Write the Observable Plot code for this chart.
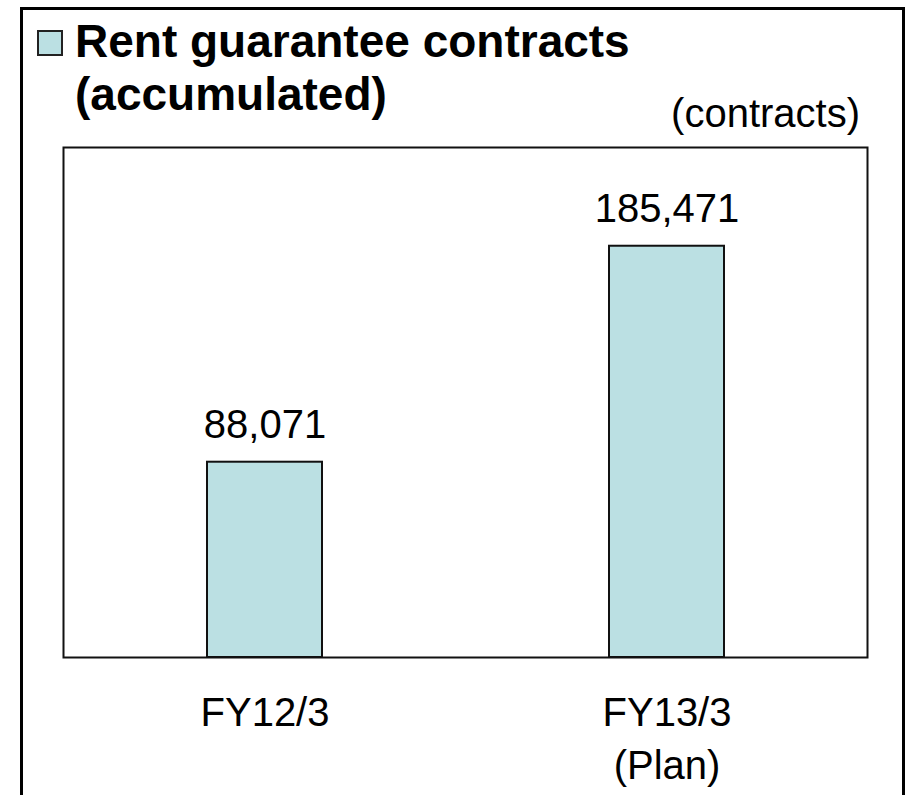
<!DOCTYPE html>
<html>
<head>
<meta charset="utf-8">
<script src="https://cdn.jsdelivr.net/npm/d3@7"></script>
<script src="https://cdn.jsdelivr.net/npm/@observablehq/plot@0.6"></script>
<style>
  html, body { margin: 0; padding: 0; background: #fff; overflow: hidden; }
  #wrap { position: relative; width: 908px; height: 795px; overflow: hidden; font-family: "Liberation Sans", Arial, sans-serif; color: #000; background: #fff; }
  #outer { position: absolute; left: 20px; top: 7px; width: 885px; height: 900px; border: 3px solid #000; box-sizing: border-box; z-index: 5; pointer-events: none; background: transparent; }
  #header { position: relative; height: 140px; }
  #icon { position: absolute; left: 37px; top: 30px; width: 26px; height: 26px; background: #bbe0e3; border: 2px solid #222; box-sizing: border-box; }
  #title { position: absolute; left: 75px; top: 15px; font-size: 46px; font-weight: bold; line-height: 53px; white-space: nowrap; }
  #unit { position: absolute; right: 48px; top: 93px; font-size: 40px; line-height: 40px; white-space: nowrap; }
  #chart { position: relative; }
</style>
</head>
<body>
<div id="wrap">
  <div id="outer"></div>
  <div id="header">
    <div id="icon"></div>
    <div id="title">Rent guarantee contracts<br>(accumulated)</div>
    <div id="unit">(contracts)</div>
  </div>
  <div id="chart"></div>
</div>
<script>
const categories = ["FY12/3", "FY13/3"];
const tickLabels = ["FY12/3", "FY13/3\n(Plan)"];
const contracts = [88071, 185471];

const data = categories.map((c, i) => ({category: c, value: contracts[i]}));
const fmt = d3.format(",");

const chart = Plot.plot({
  width: 908,
  height: 655,
  marginLeft: 63,
  marginRight: 41,
  marginTop: 7,
  marginBottom: 138,
  style: {fontFamily: "'Liberation Sans', Arial, sans-serif", background: "transparent", color: "#000"},
  x: {domain: categories, paddingInner: 0.714, paddingOuter: 0.357, axis: null},
  y: {domain: [0, 230000], axis: null},
  marks: [
    Plot.barY(data, {x: "category", y: "value", fill: "#bbe0e3", stroke: "#111", strokeWidth: 2}),
    Plot.text(data, {x: "category", y: "value", text: d => fmt(d.value), dy: -24, lineAnchor: "bottom", fontSize: 40, fill: "#000"}),
    Plot.axisX({
      label: null,
      tickSize: 0,
      tickPadding: 31,
      fontSize: 40,
      lineHeight: 1.33,
      tickFormat: (d) => tickLabels[categories.indexOf(d)],
      fill: "#000"
    }),
    Plot.frame({stroke: "#111", strokeWidth: 2})
  ]
});
document.getElementById("chart").appendChild(chart);
</script>
</body>
</html>
